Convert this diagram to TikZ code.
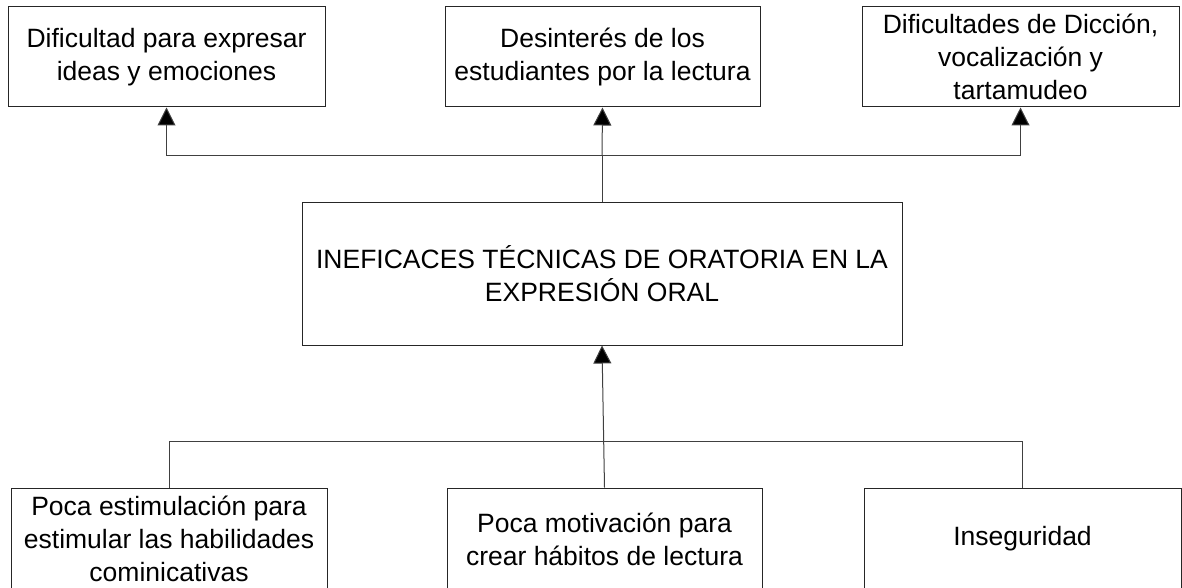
\documentclass[tikz,border=0pt]{standalone}
\usepackage{fontspec}
\setmainfont{Liberation Sans}
\usetikzlibrary{arrows.meta}
\begin{document}
\begin{tikzpicture}[x=1pt,y=-1pt,
  box/.style={draw=black!85,line width=1pt,rectangle,inner sep=0pt,align=center,
    font=\fontsize{26.5}{33}\selectfont},
  conn/.style={draw=black!75,line width=1pt},
  arr/.style={conn,-{Triangle[width=18pt,length=18pt,fill=black]}}]
\useasboundingbox (0,0) rectangle (1182,588);
% top boxes
\node[box,minimum width=317pt,minimum height=100pt] (tl) at (166.5,57) {Dificultad para expresar\\ideas y emociones};
\node[box,minimum width=315pt,minimum height=100pt] (tm) at (602.5,57) {Desinterés de los\\estudiantes por la lectura};
\node[box,minimum width=317pt,minimum height=100pt] (tr) at (1020.5,57) {Dificultades de Dicción,\\vocalización y\\tartamudeo};
% centre box
\node[box,minimum width=600pt,minimum height=143pt] (c) at (602,273.5) {INEFICACES TÉCNICAS DE ORATORIA EN LA\\EXPRESIÓN ORAL};
% bottom boxes
\node[box,minimum width=316pt,minimum height=102pt] (bl) at (169,539) {Poca estimulación para\\estimular las habilidades\\cominicativas};
\node[box,minimum width=315pt,minimum height=102pt] (bm) at (604.5,539) {Poca motivación para\\crear hábitos de lectura};
\node[box,minimum width=317pt,minimum height=102pt] (br) at (1022.5,539) {Inseguridad};
% junctions
\coordinate (jt) at (602,156);
\coordinate (jb) at (604,441);
% top connectors
\draw[conn] (c.north) -- (jt);
\draw[arr] (jt) -| (tl.south);
\draw[arr] (jt) -| (tr.south);
\draw[arr] (jt) -- (tm.south);
% bottom connectors
\draw[conn] (bl.north) -- (bl.north |- jb) -- (br.north |- jb) -- (br.north);
\draw[arr] (bm.north) -- (c.south);
\end{tikzpicture}
\end{document}
